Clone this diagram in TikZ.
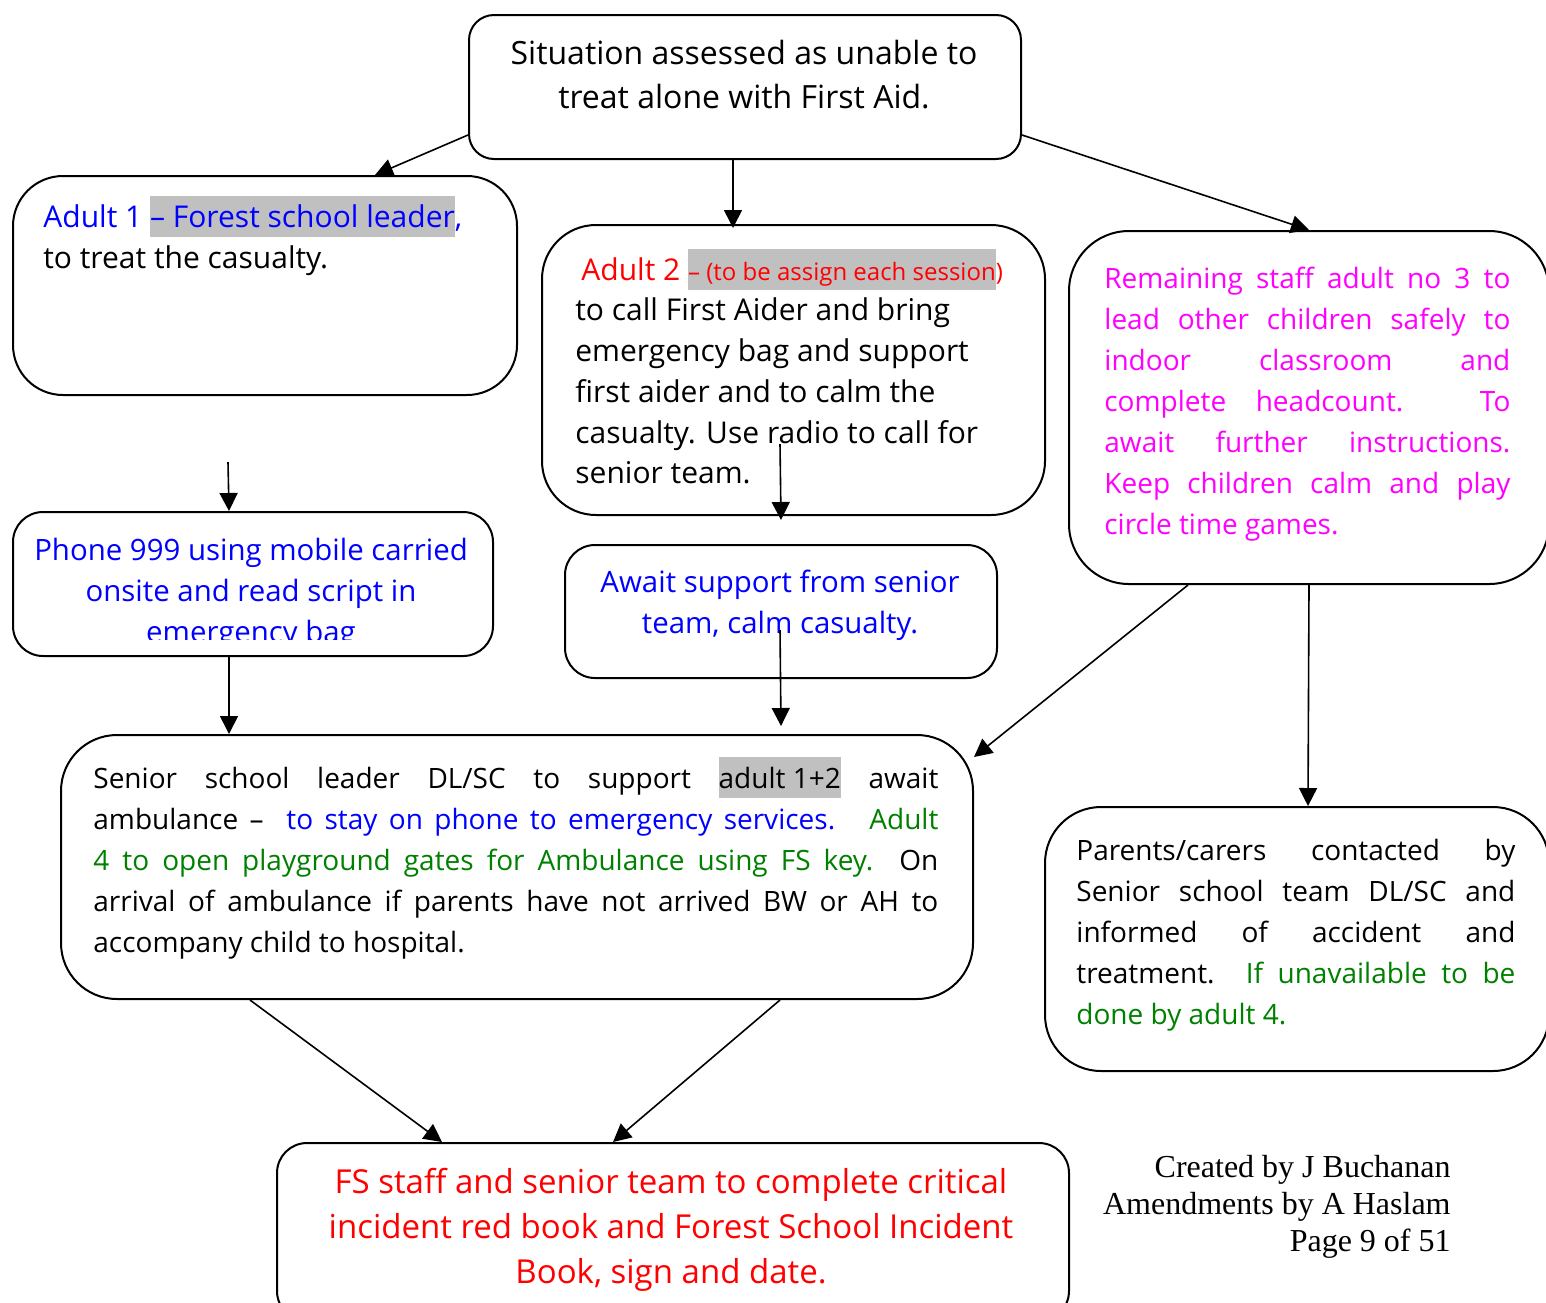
\documentclass[tikz,border=0pt]{standalone}
\usepackage{fontspec}
\setmainfont{Open Sans}
\newfontfamily\credfont{Liberation Serif}
\usetikzlibrary{arrows.meta,calc}
\definecolor{hlgray}{HTML}{C0C0C0}
\definecolor{fblue}{HTML}{0000FF}
\definecolor{fred}{HTML}{FF0000}
\definecolor{fgreen}{HTML}{008000}
\definecolor{fmag}{HTML}{FF00FF}
\newcommand\mainsz{\fontsize{15pt}{20.5pt}\selectfont}
\newcommand\bluesz{\fontsize{14.7pt}{20.5pt}\selectfont}
\newcommand\justsz{\fontsize{14pt}{20.5pt}\selectfont}
\newcommand\topsz{\fontsize{16pt}{22pt}\selectfont}
\newcommand\fssz{\fontsize{16.5pt}{22pt}\selectfont}
\newcommand\smallsz{\fontsize{12pt}{14pt}\selectfont}
\newcommand\hlbox[1]{{\setlength{\fboxsep}{0pt}\colorbox{hlgray}{\rule[-5pt]{0pt}{20.5pt}#1}}}
\newcommand\jline[2]{\makebox[#1][s]{#2}}
\begin{document}
\begin{tikzpicture}[x=0.5pt,y=-0.5pt,
  box/.style={draw=black, line width=1pt, fill=white, anchor=north west, inner sep=0pt},
  txt/.style={anchor=base west, inner sep=0pt, font=\mainsz},
  jtxt/.style={anchor=base west, inner sep=0pt, font=\justsz},
  ctxt/.style={anchor=base, inner sep=0pt, font=\bluesz},
  cred/.style={anchor=base east, inner sep=0pt, font=\credfont\fontsize{16pt}{18.5pt}\selectfont},
  arr/.style={-{Triangle[length=9pt,width=9pt]}, line width=0.8pt}]
\useasboundingbox (0,0) rectangle (1546,1302);
\clip (0,0) rectangle (1546,1302);
\fill[white] (0,0) rectangle (1546,1302);
% boxes
\node[box, rounded corners=12.5pt, minimum width=276pt, minimum height=72pt] (top) at (468,14) {};
\node[box, rounded corners=25pt, minimum width=252pt, minimum height=109.5pt] (a1) at (12,175) {};
\node[box, rounded corners=27pt, minimum width=251.5pt, minimum height=145pt] (a2) at (541,224) {};
\node[box, rounded corners=30pt, minimum width=240pt, minimum height=176.5pt] (rem) at (1068,230) {};
\node[box, rounded corners=15pt, minimum width=240pt, minimum height=72pt] (ph) at (12,511) {};
\node[box, rounded corners=15pt, minimum width=216pt, minimum height=66.5pt] (aw) at (564,544) {};
\node[box, rounded corners=28pt, minimum width=456pt, minimum height=132pt] (sen) at (60,734) {};
\node[box, rounded corners=28pt, minimum width=252pt, minimum height=132pt] (par) at (1044,806) {};
\node[box, rounded corners=15pt, minimum width=396pt, minimum height=89pt] (fs) at (276,1142) {};
% top text
\node[ctxt, font=\topsz] (t1) at (744,64) {Situation assessed as unable to};
\node[ctxt, font=\topsz] (t2) at (744,108) {treat alone with First Aid.};
% adult 1
\node[txt, text=fblue] (a1l1) at (43,227) {Adult 1 \hlbox{– Forest school leader},};
\node[txt] (a1l2) at (43,268) {to treat the casualty.};
% adult 2
\node[txt, text=fred] (a2l1) at (581,280) {Adult 2 \hlbox{\smallsz – (to be assign each session}{\smallsz )}};
\node[txt] (a2l2) at (575,320) {to call First Aider and bring};
\node[txt] (a2l3) at (575,361) {emergency bag and support};
\node[txt] (a2l4) at (575,402) {first aider and to calm the};
\node[txt] (a2l5) at (575,443) {casualty. Use radio to call for};
\node[txt] (a2l6) at (575,483) {senior team.};
% remaining
\node[jtxt, text=fmag] (r1) at (1104,288) {\jline{203pt}{Remaining staff adult no 3 to}};
\node[jtxt, text=fmag] (r2) at (1104,329) {\jline{203pt}{lead other children safely to}};
\node[jtxt, text=fmag] (r3) at (1104,370) {\jline{203pt}{indoor classroom and}};
\node[jtxt, text=fmag] (r4) at (1104,411) {\jline{203pt}{complete headcount. To}};
\node[jtxt, text=fmag] (r5) at (1104,452) {\jline{203pt}{await further instructions.}};
\node[jtxt, text=fmag] (r6) at (1104,493) {\jline{203pt}{Keep children calm and play}};
\node[jtxt, text=fmag] (r7) at (1104,534) {circle time games.};
% phone
\node[ctxt, text=fblue] (p1) at (251,560) {Phone 999 using mobile carried};
\node[ctxt, text=fblue] (p2) at (251,601) {onsite and read script in};
\begin{scope}
\clip (12,511) rectangle (492,639);
\node[ctxt, text=fblue] (p3) at (251,642) {emergency bag};
\end{scope}
% await
\node[ctxt, text=fblue] (w1) at (780,592) {Await support from senior};
\node[ctxt, text=fblue] (w2) at (780,633) {team, calm casualty.};
% senior
\node[jtxt] (s1) at (93,788) {\jline{422.5pt}{Senior school leader DL/SC to support \hlbox{adult 1+2} await}};
\node[jtxt] (s2) at (93,829) {\jline{422.5pt}{ambulance –\ \ \textcolor{fblue}{to stay on phone to emergency services.}\ \ \ \textcolor{fgreen}{Adult}}};
\node[jtxt] (s3) at (93,870) {\jline{422.5pt}{\textcolor{fgreen}{4 to open playground gates for Ambulance using FS key.}\ \ On}};
\node[jtxt] (s4) at (93,911) {\jline{422.5pt}{arrival of ambulance if parents have not arrived BW or AH to}};
\node[jtxt] (s5) at (93,952) {accompany child to hospital.};
% parents
\node[jtxt] (q1) at (1076,860) {\jline{219.5pt}{Parents/carers contacted by}};
\node[jtxt] (q2) at (1076,901) {\jline{219.5pt}{Senior school team DL/SC and}};
\node[jtxt] (q3) at (1076,942) {\jline{219.5pt}{informed of accident and}};
\node[jtxt] (q4) at (1076,983) {\jline{219.5pt}{treatment. \textcolor{fgreen}{If unavailable to be}}};
\node[jtxt, text=fgreen] (q5) at (1076,1024) {done by adult 4.};
% FS
\node[ctxt, font=\fssz, text=fred] (f1) at (671,1193) {FS staff and senior team to complete critical};
\node[ctxt, font=\fssz, text=fred] (f2) at (671,1238) {incident red book and Forest School Incident};
\node[ctxt, font=\fssz, text=fred] (f3) at (671,1283) {Book, sign and date.};
% credits
\node[cred] (c1) at (1451,1177) {Created by J Buchanan};
\node[cred] (c2) at (1451,1214) {Amendments by A Haslam};
\node[cred] (c3) at (1451,1251) {Page 9 of 51};
% free coordinates
\coordinate (k1) at (228,462);
\coordinate (k2) at (780,444);
\coordinate (k3) at (780,630);
% arrows
\draw[arr] ([yshift=12.5pt]top.south west) -- ([xshift=181.5pt]a1.north west);
\draw[arr] ([xshift=-6pt]top.south) -- ([xshift=-30.25pt,yshift=-2pt]a2.north);
\draw[arr] ([yshift=12.5pt]top.south east) -- (rem.north);
\draw[arr] (k1) -- ([xshift=-12pt]ph.north);
\draw[arr] ([xshift=-12pt]ph.south) -- ([xshift=-144pt]sen.north);
\draw[arr] (k2) -- ([xshift=-6.25pt,yshift=-2pt]a2.south);
\draw[arr] (k3) -- ([xshift=132pt,yshift=4pt]sen.north);
\draw[arr] ([xshift=60pt]rem.south west) -- ([yshift=-11.5pt]sen.north east);
\draw[arr] (rem.south) -- ([xshift=5.5pt]par.north);
\draw[arr] ([xshift=95pt]sen.south west) -- ([xshift=83pt]fs.north west);
\draw[arr] ([xshift=360pt]sen.south west) -- ([xshift=168.5pt]fs.north west);
\end{tikzpicture}
\end{document}
